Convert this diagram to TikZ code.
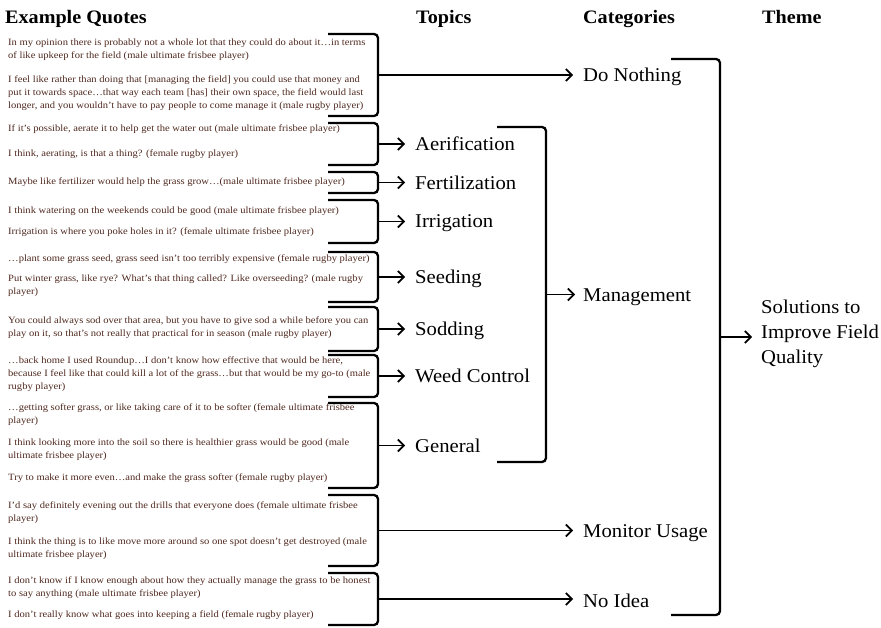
\documentclass[tikz,border=0pt]{standalone}
\usepackage{fontspec}
\setmainfont{Liberation Serif}[FakeStretch=1.06]
\newfontfamily\quotefont{Liberation Serif}[FakeStretch=1.1]
\usetikzlibrary{arrows.meta,calc}
\definecolor{quotecol}{RGB}{78,40,30}
\tikzset{
  brk/.style={line width=2.3pt,black},
  conn/.style={line width=1.6pt,-{Straight Barb[length=6pt,width=12pt,line width=1.7pt]}},
  quote/.style={anchor=north west,inner sep=0pt,align=left,text=quotecol,font=\quotefont\fontsize{9.6}{13}\selectfont},
  topic/.style={anchor=base west,inner sep=0pt,font=\fontsize{19.5}{24}\selectfont},
  header/.style={anchor=base west,inner sep=0pt,font=\fontsize{19}{23}\selectfont\bfseries}
}
\newcommand{\qbrk}[5]{% x-left, x-right, top, bottom, name
  \draw[brk] (#1,#3) -- (#2-4,#3) to[out=0,in=90] (#2,#3+4) -- (#2,#4-4) to[out=-90,in=0] (#2-4,#4) -- (#1,#4);
  \coordinate (#5) at (#2,{(#3+#4)/2});}
\begin{document}
\begin{tikzpicture}[x=1pt,y=-1pt]
\useasboundingbox (0,0) rectangle (881,628);
% headers
\node[header] (hq) at (5,23.5) {Example Quotes};
\node[header] (ht) at (416,23.5) {Topics};
\node[header] (hc) at (583,23.5) {Categories};
\node[header] (hth) at (762,23.5) {Theme};
% quotes
\node[quote] (q1) at (8,39) {In my opinion there is probably not a whole lot that they could do about it…in terms\\of like upkeep for the field (male ultimate frisbee player)};
\node[quote] (q2) at (8,76) {I feel like rather than doing that [managing the field] you could use that money and\\put it towards space…that way each team [has] their own space, the field would last\\longer, and you wouldn’t have to pay people to come manage it (male rugby player)};
\node[quote] (q3) at (8,125) {If it’s possible, aerate it to help get the water out (male ultimate frisbee player)};
\node[quote] (q4) at (8,150) {I think, aerating, is that a thing? (female rugby player)};
\node[quote] (q5) at (8,178) {Maybe like fertilizer would help the grass grow…(male ultimate frisbee player)};
\node[quote] (q6) at (8,207) {I think watering on the weekends could be good (male ultimate frisbee player)};
\node[quote] (q7) at (8,228) {Irrigation is where you poke holes in it? (female ultimate frisbee player)};
\node[quote] (q8) at (8,255) {…plant some grass seed, grass seed isn’t too terribly expensive (female rugby player)};
\node[quote] (q9) at (8,275) {Put winter grass, like rye? What’s that thing called? Like overseeding? (male rugby\\player)};
\node[quote] (q10) at (8,317) {You could always sod over that area, but you have to give sod a while before you can\\play on it, so that’s not really that practical for in season (male rugby player)};
\node[quote] (q11) at (8,357) {…back home I used Roundup…I don’t know how effective that would be here,\\because I feel like that could kill a lot of the grass…but that would be my go-to (male\\rugby player)};
\node[quote] (q12) at (8,404) {…getting softer grass, or like taking care of it to be softer (female ultimate frisbee\\player)};
\node[quote] (q13) at (8,439) {I think looking more into the soil so there is healthier grass would be good (male\\ultimate frisbee player)};
\node[quote] (q14) at (8,474) {Try to make it more even…and make the grass softer (female rugby player)};
\node[quote] (q15) at (8,502) {I’d say definitely evening out the drills that everyone does (female ultimate frisbee\\player)};
\node[quote] (q16) at (8,538) {I think the thing is to like move more around so one spot doesn’t get destroyed (male\\ultimate frisbee player)};
\node[quote] (q17) at (8,577) {I don’t know if I know enough about how they actually manage the grass to be honest\\to say anything (male ultimate frisbee player)};
\node[quote] (q18) at (8,611) {I don’t really know what goes into keeping a field (female rugby player)};
% left brackets
\qbrk{328}{378}{34}{116}{b1}
\qbrk{328}{378}{123}{165}{b2}
\qbrk{328}{378}{172}{193}{b3}
\qbrk{328}{378}{200}{243}{b4}
\qbrk{328}{378}{252}{302}{b5}
\qbrk{328}{378}{307}{351}{b6}
\qbrk{328}{378}{355}{397}{b7}
\qbrk{328}{378}{403}{488}{b8}
\qbrk{328}{378}{495}{566}{b9}
\qbrk{328}{378}{573}{625}{b10}
% topics
\node[topic] (t2) at (415,151) {Aerification};
\node[topic] (t3) at (415,189.5) {Fertilization};
\node[topic] (t4) at (415,228) {Irrigation};
\node[topic] (t5) at (415,283.5) {Seeding};
\node[topic] (t6) at (415,335.5) {Sodding};
\node[topic] (t7) at (415,382) {Weed Control};
\node[topic] (t8) at (415,452) {General};
% categories
\node[topic] (c1) at (583,82) {Do Nothing};
\node[topic] (c2) at (583,302) {Management};
\node[topic] (c3) at (583,537) {Monitor Usage};
\node[topic] (c4) at (583,607) {No Idea};
% theme
\node[anchor=north west,inner sep=0pt,align=left,font=\fontsize{19.5}{25}\selectfont] (th) at (761,300) {Solutions to\\Improve Field\\Quality};
% topic arrows
\foreach \b/\t in {b2/t2,b3/t3,b4/t4,b5/t5,b6/t6,b7/t7,b8/t8}{
  \draw[conn,shorten >=10pt] (\b) -- (\b -| \t.west) ;
}
% category brackets
\qbrk{497}{546}{127}{462}{bm}
\qbrk{671}{720}{59}{615}{bt}
\draw[conn,shorten >=10pt] (b1) -- (b1 -| c1.west);
\draw[conn,shorten >=10pt] (b9) -- (b9 -| c3.west);
\draw[conn,shorten >=10pt] (b10) -- (b10 -| c4.west);
\draw[conn,shorten >=8pt] (bm) -- (bm -| c2.west);
\draw[conn,shorten >=9pt] (bt) -- (bt -| th.west);
\end{tikzpicture}
\end{document}
